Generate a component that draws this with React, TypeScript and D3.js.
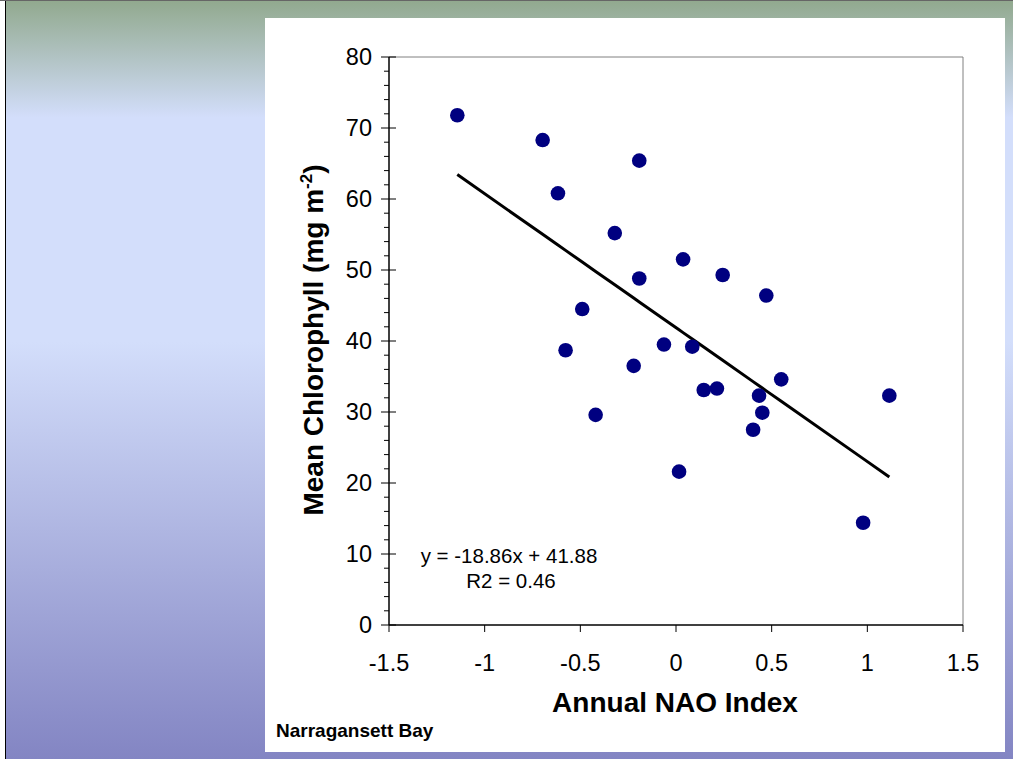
import React from 'react';
import * as d3 from 'd3';

// annual NAO index vs mean chlorophyll, Narragansett Bay
const naoIndex = [
  -1.143, -0.697, -0.192, -0.617, -0.32, 0.037, -0.192, 0.244, 0.472, -0.49, -0.577, -0.063,
  0.085, -0.221, 0.145, 0.214, 0.55, 0.434, 1.115, 0.451, -0.42, 0.403, 0.016, 0.978,
];
const chlorophyll = [
  71.8, 68.3, 65.4, 60.8, 55.2, 51.5, 48.8, 49.3, 46.4, 44.5, 38.7, 39.5,
  39.2, 36.5, 33.1, 33.3, 34.6, 32.3, 32.3, 29.9, 29.6, 27.5, 21.6, 14.4,
];
const slope = -18.86;
const intercept = 41.88;
const equationLabel = 'y = -18.86x + 41.88';
const r2Label = 'R2 = 0.46';
const xTicks = [-1.5, -1, -0.5, 0, 0.5, 1, 1.5];
const yTicks = [0, 10, 20, 30, 40, 50, 60, 70, 80];

const W = 1013;
const H = 759;
const plot = { left: 389, right: 963, top: 57, bottom: 625 };
const font = 'Liberation Sans, Arial, sans-serif';

export default function App() {
  const x = d3.scaleLinear().domain([-1.5, 1.5]).range([plot.left, plot.right]);
  const y = d3.scaleLinear().domain([0, 80]).range([plot.bottom, plot.top]);

  const points = naoIndex.map((v, i) => ({ x: v, y: chlorophyll[i] }));
  const sortedX = [...naoIndex].sort((a, b) => a - b);
  const trend = d3.line<number>()
    .x(d => x(d))
    .y(d => y(slope * d + intercept))(sortedX);

  const minorTicks = d3.range(0, 80, 2).filter(v => v % 10 !== 0);

  return (
    <svg width={W} height={H} style={{ position: 'absolute', left: 0, top: 0 }} fontFamily={font}>
      <defs>
        <linearGradient id="bg" x1="0" y1="0" x2="0" y2="1">
          <stop offset="0" stopColor="#91a98e" />
          <stop offset="0.155" stopColor="#d3defb" />
          <stop offset="0.45" stopColor="#d3defb" />
          <stop offset="1" stopColor="#8385c3" />
        </linearGradient>
      </defs>
      <rect width={W} height={H} fill="#fff" />
      <rect x={5} y={0} width={W - 5} height={H} fill="url(#bg)" />
      <line x1={0} x2={W} y1={0.5} y2={0.5} stroke="#666" />
      <line x1={5.5} x2={5.5} y1={1} y2={H} stroke="#000" />

      <rect x={265} y={18} width={740} height={734} fill="#fff" />

      {/* plot frame */}
      <line x1={plot.left} x2={plot.right} y1={plot.top} y2={plot.top} stroke="#808080" />
      <line x1={plot.right} x2={plot.right} y1={plot.top} y2={plot.bottom} stroke="#808080" />
      <line x1={plot.left} x2={plot.left} y1={plot.top} y2={plot.bottom} stroke="#000" strokeWidth={1.5} />
      <line x1={plot.left} x2={plot.right} y1={plot.bottom} y2={plot.bottom} stroke="#000" strokeWidth={1.5} />

      {/* y ticks */}
      {minorTicks.map(t => (
        <line key={'m' + t} x1={plot.left - 5} x2={plot.left} y1={y(t)} y2={y(t)} stroke="#000" />
      ))}
      {yTicks.map(t => (
        <g key={'y' + t}>
          <line x1={plot.left - 8} x2={plot.left + 7} y1={y(t)} y2={y(t)} stroke="#000" />
          <text x={372} y={y(t)} dy="0.36em" textAnchor="end" fontSize={23.5}>{t}</text>
        </g>
      ))}

      {/* x ticks */}
      {xTicks.map(t => (
        <g key={'x' + t}>
          <line x1={x(t)} x2={x(t)} y1={plot.bottom} y2={plot.bottom + 7} stroke="#000" />
          <text x={x(t)} y={671} textAnchor="middle" fontSize={23.5}>{t}</text>
        </g>
      ))}

      {/* trend line */}
      <path d={trend || ''} fill="none" stroke="#000" strokeWidth={3} />

      {points.map((p, i) => (
        <circle key={i} cx={x(p.x)} cy={y(p.y)} r={7.3} fill="#000080" />
      ))}

      <text x={509} y={563} textAnchor="middle" fontSize={20.5}>{equationLabel}</text>
      <text x={511} y={588} textAnchor="middle" fontSize={20.5}>{r2Label}</text>

      <text x={675} y={712} textAnchor="middle" fontSize={28} fontWeight="bold">Annual NAO Index</text>
      <text transform="translate(323,340) rotate(-90)" textAnchor="middle" fontSize={28} fontWeight="bold">
        Mean Chlorophyll (mg m<tspan dy={-11} fontSize={17}>-2</tspan><tspan dy={11}>)</tspan>
      </text>

      <text x={276} y={737} fontSize={19} fontWeight="bold">Narragansett Bay</text>
    </svg>
  );
}
